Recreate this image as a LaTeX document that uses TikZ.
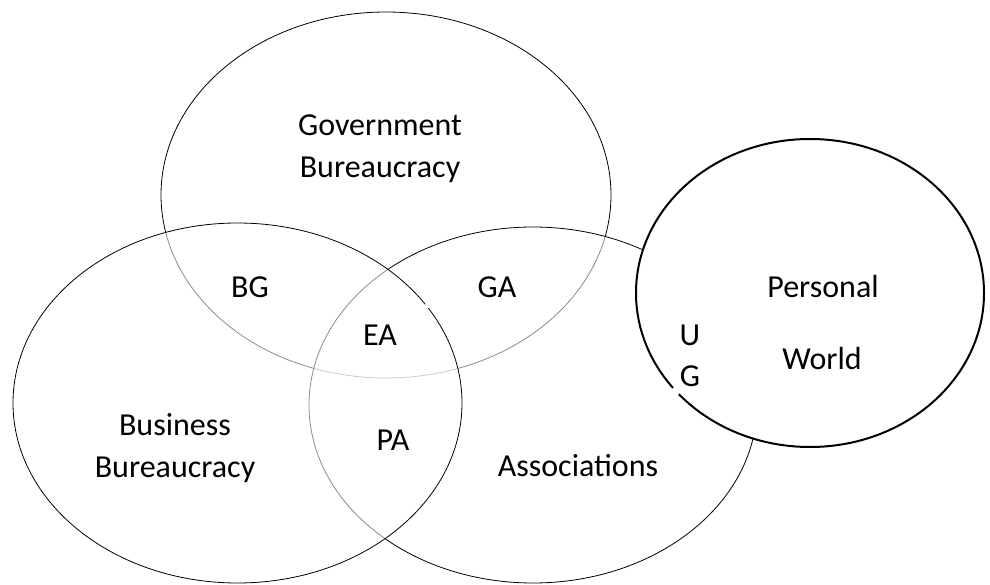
\documentclass[tikz,border=0pt]{standalone}
\usepackage{fontspec}
\setmainfont{Carlito}
\begin{document}
\begin{tikzpicture}[x=1pt,y=-1pt,
  venn/.style={draw=black,line width=0.8pt},
  veil/.style={fill=white,fill opacity=0.55},
  lbl/.style={font=\fontsize{32}{42}\selectfont,align=center,inner sep=0pt}]
\useasboundingbox[fill=white] (0,0) rectangle (990,585);
% Government (bottom layer)
\draw[venn] (386,195) ellipse [x radius=225,y radius=183];
% Associations
\path[veil] (533,405) ellipse [x radius=224,y radius=178];
\draw[venn] (533,405) ellipse [x radius=224,y radius=178];
% Business (top layer)
\path[veil] (237.5,403) ellipse [x radius=224.5,y radius=180];
\draw[venn] (237.5,403) ellipse [x radius=224.5,y radius=180];
% small gaps
\fill[white] (345,301) circle (3);
\fill[white] (428,305) circle (3);
% Personal World
\draw[fill=white,line width=2pt] (810,293) ellipse [x radius=174,y radius=154];
\fill[white] (676,391) circle (4.5);
% labels
\node[lbl] (gov) at (380,149) {Government\\Bureaucracy};
\node[lbl] (bus) at (175,448) {Business\\Bureaucracy};
\node[lbl] (ass) at (578,466) {Associations};
\node[lbl] (per) at (823,287) {Personal};
\node[lbl] (wor) at (822,358) {World};
\node[lbl] (bg) at (250,287) {BG};
\node[lbl] (ga) at (497,287) {GA};
\node[lbl] (ea) at (380,335) {EA};
\node[lbl] (pa) at (393,440) {PA};
\node[lbl] (u) at (690,335) {U};
\node[lbl] (g) at (690,376) {G};
\end{tikzpicture}
\end{document}
